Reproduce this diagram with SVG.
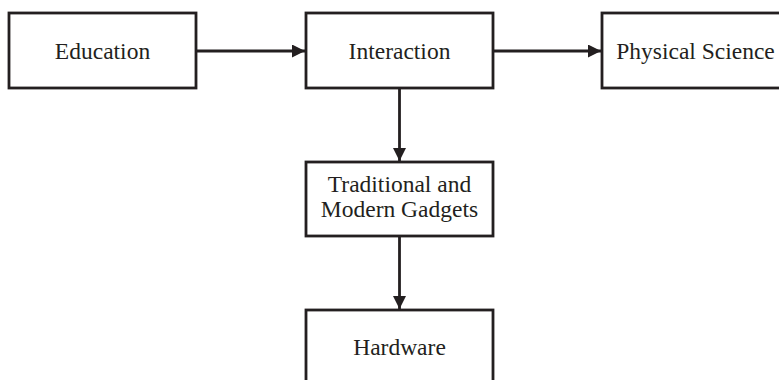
<svg xmlns="http://www.w3.org/2000/svg" width="779" height="380" viewBox="0 0 779 380">
<defs>
<marker id="arr" markerWidth="14" markerHeight="13" refX="13" refY="6.5" orient="auto" markerUnits="userSpaceOnUse">
<path d="M0,0 L13,6.5 L0,13 Z" fill="#231f20"/>
</marker>
<style>
.box{fill:#fff;stroke:#231f20;stroke-width:2.8}
.lbl{font-family:"Liberation Serif","Times New Roman",serif;font-size:23.5px;fill:#231f20;text-anchor:middle}
.edge{stroke:#231f20;stroke-width:2.8;fill:none;marker-end:url(#arr)}
</style>
</defs>
<rect width="779" height="380" fill="#fff"/>
<g id="connectors">
<line class="edge" x1="196" y1="51" x2="305" y2="51"/>
<line class="edge" x1="493" y1="51" x2="601" y2="51"/>
<line class="edge" x1="399.5" y1="88" x2="399.5" y2="161"/>
<line class="edge" x1="399.5" y1="236" x2="399.5" y2="309"/>
</g>
<g id="education">
<rect class="box" x="9" y="13" width="187" height="75"/>
<text class="lbl" x="102.5" y="59">Education</text>
</g>
<g id="interaction">
<rect class="box" x="306" y="13" width="187" height="75"/>
<text class="lbl" x="399.5" y="59">Interaction</text>
</g>
<g id="physical-science">
<rect class="box" x="602" y="13" width="187" height="75"/>
<text class="lbl" x="695.5" y="59">Physical Science</text>
</g>
<g id="gadgets">
<rect class="box" x="306" y="162" width="187" height="74"/>
<text class="lbl" x="399.5" y="192">Traditional and</text>
<text class="lbl" x="399.5" y="216.5">Modern Gadgets</text>
</g>
<g id="hardware">
<rect class="box" x="306" y="310" width="187" height="90"/>
<text class="lbl" x="399.5" y="355">Hardware</text>
</g>
</svg>
